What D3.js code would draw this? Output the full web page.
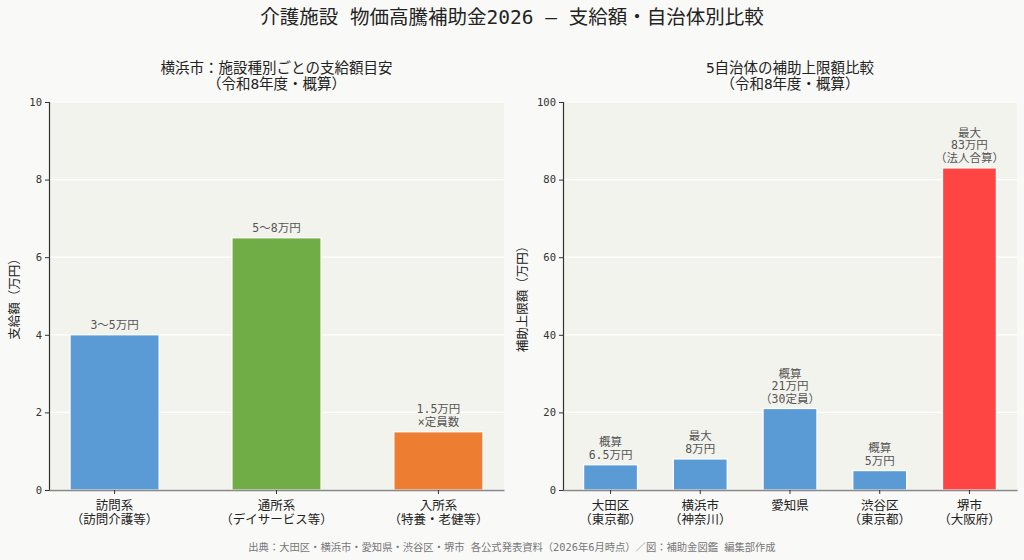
<!DOCTYPE html>
<html>
<head>
<meta charset="utf-8">
<script src="https://cdn.jsdelivr.net/npm/d3@7"></script>
<style>
  body { margin: 0; background: #f9f9f7; }
  text { font-family: "DejaVu Sans Mono", "Noto Sans CJK JP", sans-serif; }
</style>
</head>
<body>
<svg id="chart" width="1024" height="560"></svg>
<script>
// left panel data
var typeNames = ['訪問系\n（訪問介護等）', '通所系\n（デイサービス等）', '入所系\n（特養・老健等）']
var typeValues = [4, 6.5, 1.5]
var typeLabels = ['3〜5万円', '5〜8万円', '1.5万円\n×定員数']
var typeColors = ['#5b9bd5', '#70ad47', '#ed7d31']

// right panel data
var cityNames = ['大田区\n（東京都）', '横浜市\n（神奈川）', '愛知県', '渋谷区\n（東京都）', '堺市\n（大阪府）']
var cityValues = [6.5, 8, 21, 5, 83]
var cityLabels = ['概算\n6.5万円', '最大\n8万円', '概算\n21万円\n（30定員）', '概算\n5万円', '最大\n83万円\n（法人合算）']
var cityColors = ['#5b9bd5', '#5b9bd5', '#5b9bd5', '#5b9bd5', '#ff4444']

var leftTicks = [0, 2, 4, 6, 8, 10]
var rightTicks = [0, 20, 40, 60, 80, 100]

var svg = d3.select('#chart')

svg.append('text')
  .attr('x', 512).attr('y', 24)
  .attr('text-anchor', 'middle')
  .style('font-size', '19.5px')
  .style('fill', '#222')
  .text('介護施設 物価高騰補助金2026 — 支給額・自治体別比較')

function multiline(sel, str, lh, first) {
  var lines = str.split('\n')
  lines.forEach(function(l, i) {
    sel.append('tspan').attr('x', 0).attr('dy', i == 0 ? (first || 0) : lh).text(l)
  })
}

function panel(opt) {
  var g = svg.append('g')
  var x = d3.scaleBand()
    .domain(opt.names)
    .range([opt.left, opt.right])
    .paddingInner(opt.pi)
    .paddingOuter(opt.po)
  var y = d3.scaleLinear().domain([0, opt.max]).range([490, 102])

  g.append('rect')
    .attr('x', opt.left).attr('y', 102)
    .attr('width', opt.right - opt.left).attr('height', 388)
    .attr('fill', '#f3f3ee')

  // grid
  g.selectAll('.grid')
    .data(opt.ticks)
    .enter()
    .append('line')
    .attr('x1', opt.left).attr('x2', opt.right)
    .attr('y1', function(d) { return y(d) }).attr('y2', function(d) { return y(d) })
    .attr('stroke', '#ffffff').attr('stroke-width', 1.2)

  g.selectAll('.bar')
    .data(opt.values)
    .enter()
    .append('rect')
    .attr('x', function(d, i) { return x(opt.names[i]) })
    .attr('y', function(d) { return y(d) })
    .attr('width', x.bandwidth())
    .attr('height', function(d) { return y(0) - y(d) })
    .attr('fill', function(d, i) { return opt.colors[i] })
    .attr('stroke', '#ffffff').attr('stroke-width', 1.2)

  // value labels
  opt.values.forEach(function(v, i) {
    var lines = opt.labels[i].split('\n')
    var t = g.append('text')
      .attr('transform', 'translate(' + (x(opt.names[i]) + x.bandwidth() / 2) + ',' + (y(v) - 6 - (lines.length - 1) * 12.5) + ')')
      .attr('text-anchor', 'middle')
      .style('font-size', '11.5px')
      .style('fill', '#555')
    multiline(t, opt.labels[i], 12.5)
  })

  // y axis
  var ya = g.append('g')
    .attr('transform', 'translate(' + opt.left + ',0)')
    .call(d3.axisLeft(y).tickValues(opt.ticks).tickSize(4).tickPadding(3))
  ya.select('.domain').attr('stroke', '#333').attr('stroke-width', 1.2)
  ya.selectAll('line').attr('stroke', '#333')
  ya.selectAll('text').style('font-size', '10.5px').style('fill', '#333')
    .style('font-family', '"DejaVu Sans Mono", monospace')

  // x axis
  var xa = g.append('g')
    .attr('transform', 'translate(0,490)')
    .call(d3.axisBottom(x).tickSize(4).tickPadding(4).tickSizeOuter(0))
  xa.select('.domain').attr('stroke', '#888').attr('stroke-width', 1.5)
  xa.selectAll('line').attr('stroke', '#333')
  xa.selectAll('text').each(function(d) {
    var t = d3.select(this)
    t.text(null)
    t.attr('dy', null).attr('y', 20)
    t.style('font-size', '12.5px').style('fill', '#222')
    multiline(t, d, 14)
  })

  svg.append('text')
    .attr('text-anchor', 'middle')
    .style('font-size', '14.5px')
    .style('fill', '#222')
    .attr('transform', 'translate(' + ((opt.left + opt.right) / 2) + ',73)')
    .call(function(t) { multiline(t, opt.title, 15.5) })

  svg.append('text')
    .attr('text-anchor', 'middle')
    .style('font-size', '12.5px')
    .style('fill', '#222')
    .attr('transform', 'translate(' + (opt.left - opt.yoff) + ',296) rotate(-90)')
    .text(opt.ylabel)
}

panel({
  names: typeNames, values: typeValues, labels: typeLabels, colors: typeColors,
  left: 49, right: 504, pi: 0.45, po: 0.13, max: 10, ticks: leftTicks, yoff: 30,
  title: '横浜市：施設種別ごとの支給額目安\n（令和8年度・概算）', ylabel: '支給額（万円）'
})

panel({
  names: cityNames, values: cityValues, labels: cityLabels, colors: cityColors,
  left: 563, right: 1017, pi: 0.4, po: 0.23, max: 100, ticks: rightTicks, yoff: 36,
  title: '5自治体の補助上限額比較\n（令和8年度・概算）', ylabel: '補助上限額（万円）'
})

svg.append('text')
  .attr('x', 512).attr('y', 551)
  .attr('text-anchor', 'middle')
  .style('font-size', '10.3px')
  .style('fill', '#777')
  .text('出典：大田区・横浜市・愛知県・渋谷区・堺市 各公式発表資料（2026年6月時点）／図：補助金図鑑 編集部作成')
</script>
</body>
</html>
